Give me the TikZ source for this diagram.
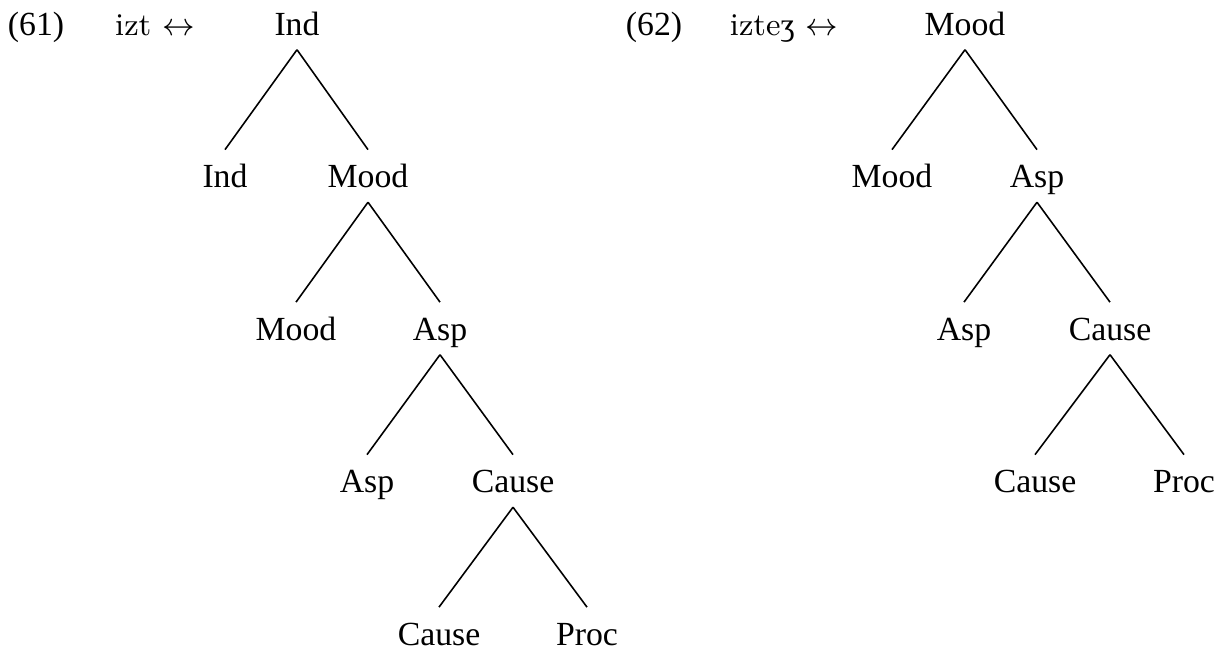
\documentclass[tikz,border=0pt]{standalone}
\usepackage{fontspec}
\newfontfamily\labelfont{Liberation Serif}
\tikzset{
  lbl/.style={font=\labelfont\fontsize{9.6}{11}\selectfont, inner sep=0pt, anchor=base,
    text height=6.3pt, text depth=0pt},
  gloss/.style={font=\fontsize{9}{11}\selectfont, inner sep=0pt, anchor=base},
  branch/.style={line width=0.45pt}
}
\newcommand{\br}[2]{\draw[branch] ([yshift=-0.14cm]#1.south) -- ([yshift=0.15cm]#2.north);}
\begin{document}
\begin{tikzpicture}[x=0.01cm,y=-0.01cm]
\useasboundingbox (0,0) rectangle (1227,651);
\node[lbl] (exa) at (36,35) {(61)};
\node[gloss] (glsa) at (155,35) {izt $\leftrightarrow$};
\node[lbl] (a1) at (297,35) {Ind};
\node[lbl] (a2l) at (225,187.5) {Ind};
\node[lbl] (a2r) at (368,187.5) {Mood};
\node[lbl] (a3l) at (296,340) {Mood};
\node[lbl] (a3r) at (440,340) {Asp};
\node[lbl] (a4l) at (367,492.5) {Asp};
\node[lbl] (a4r) at (513,492.5) {Cause};
\node[lbl] (a5l) at (439,645) {Cause};
\node[lbl] (a5r) at (587,645) {Proc};
\br{a1}{a2l} \br{a1}{a2r}
\br{a2r}{a3l} \br{a2r}{a3r}
\br{a3r}{a4l} \br{a3r}{a4r}
\br{a4r}{a5l} \br{a4r}{a5r}
\node[lbl] (exb) at (654,35) {(62)};
\node[gloss] (glsb) at (784,35) {izte{\labelfont ʒ} $\leftrightarrow$};
\node[lbl] (b1) at (965,35) {Mood};
\node[lbl] (b2l) at (892,187.5) {Mood};
\node[lbl] (b2r) at (1037,187.5) {Asp};
\node[lbl] (b3l) at (964,340) {Asp};
\node[lbl] (b3r) at (1110,340) {Cause};
\node[lbl] (b4l) at (1035,492.5) {Cause};
\node[lbl] (b4r) at (1184,492.5) {Proc};
\br{b1}{b2l} \br{b1}{b2r}
\br{b2r}{b3l} \br{b2r}{b3r}
\br{b3r}{b4l} \br{b3r}{b4r}
\end{tikzpicture}
\end{document}
